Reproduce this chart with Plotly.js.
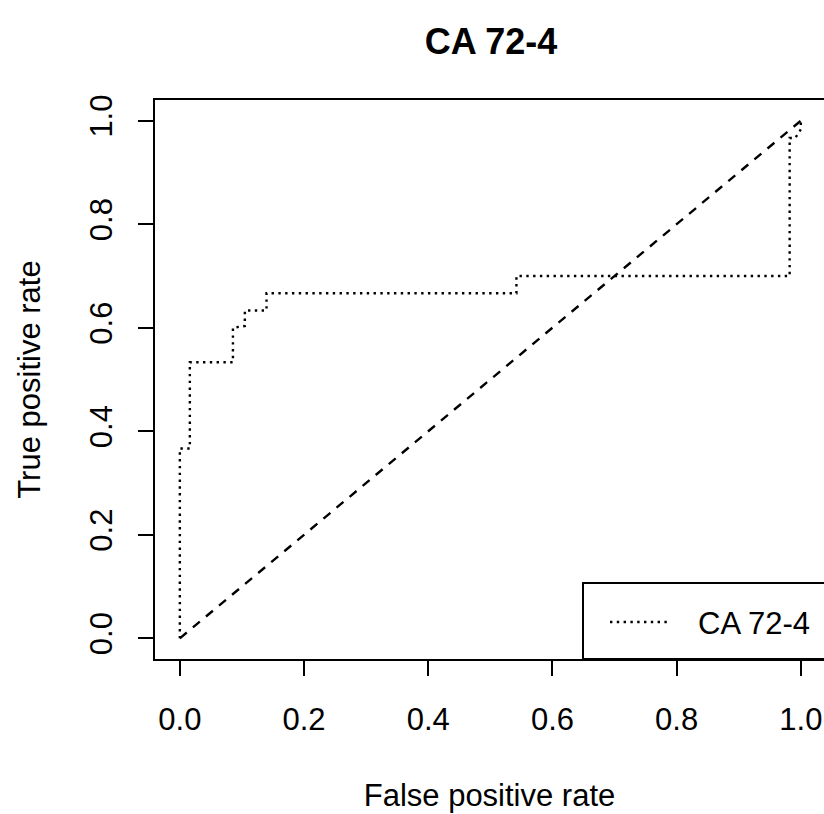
<!DOCTYPE html>
<html>
<head>
<meta charset="utf-8">
<script src="https://cdn.plot.ly/plotly-3.0.1.min.js"></script>
<style>html,body{margin:0;padding:0;background:#fff;}#chart{width:824px;height:814px;}</style>
</head>
<body>
<div id="chart"></div>
<script>
// ROC curve for CA 72-4
const fpr = [0, 0, 0.0161, 0.0161, 0.0855, 0.0855, 0.1047, 0.1047, 0.1396, 0.1396, 0.542, 0.542, 0.982, 0.982, 0.991, 1.0, 1.0];
const tpr = [0, 0.3667, 0.3667, 0.5333, 0.5333, 0.6, 0.6033, 0.6333, 0.6333, 0.6667, 0.6667, 0.7, 0.7, 0.9667, 0.9667, 0.9833, 1.0];
const chanceX = [0, 1];
const chanceY = [0, 1];
const tickVals = [0, 0.2, 0.4, 0.6, 0.8, 1.0];
const tickText = ["0.0", "0.2", "0.4", "0.6", "0.8", "1.0"];
const seriesName = "CA 72-4";
const chartTitle = "CA 72-4";
const xTitle = "False positive rate";
const yTitle = "True positive rate";

const FONT = "Liberation Sans, Arial, Helvetica, sans-serif";
const W = 824, H = 814;
const L = 155, T = 100, B = 155, R = 0;
const plotW = W - L - R, plotH = H - T - B;
// R-style 4% padding on the left; right edge falls off the picture
const xr0 = -0.04, xr1 = -0.04 + plotW / 621;
const yr0 = -0.04, yr1 = 1.04;
const px = p => (p - L) / plotW;
const py = p => (H - B - p) / plotH;

const traces = [
  {x: fpr, y: tpr, mode: "lines", name: seriesName,
   line: {color: "#000", width: 2.4, dash: "2.4px,4.4px"}, hoverinfo: "x+y"},
  {x: chanceX, y: chanceY, mode: "lines", name: "chance",
   line: {color: "#000", width: 2.4, dash: "9px,8px"}, hoverinfo: "skip"}
];

const axisBase = {
  showgrid: false, zeroline: false, showline: true, linecolor: "#000", linewidth: 2,
  ticks: "outside", ticklen: 15, tickwidth: 2, tickcolor: "#000",
  tickvals: tickVals, ticktext: tickText,
  tickfont: {family: FONT, size: 31, color: "#000"},
  title: {font: {family: FONT, size: 31, color: "#000"}}
};

const layout = {
  width: W, height: H,
  margin: {l: L, r: R, t: T, b: B, pad: 0},
  paper_bgcolor: "#fff", plot_bgcolor: "#fff",
  showlegend: false,
  title: {text: "<b>" + chartTitle + "</b>", font: {family: FONT, size: 36, color: "#000"},
          xref: "container", yref: "container", x: 491 / W, y: 1 - 41 / H,
          xanchor: "center", yanchor: "middle"},
  xaxis: Object.assign({}, axisBase, {
    range: [xr0, xr1], mirror: true, ticklabelstandoff: 17,
    title: {text: xTitle, standoff: 48, font: axisBase.title.font}
  }),
  yaxis: Object.assign({}, axisBase, {
    range: [yr0, yr1], tickangle: -90, ticklabelstandoff: 14,
    title: {text: yTitle, standoff: 34, font: axisBase.title.font}
  }),
  shapes: [
    {type: "rect", xref: "paper", yref: "paper", x0: px(583), x1: 1.05, y0: 0, y1: py(583),
     line: {color: "#000", width: 2}, fillcolor: "#fff", layer: "above"},
    {type: "line", xref: "paper", yref: "paper", x0: px(610), x1: px(667), y0: py(622), y1: py(622),
     line: {color: "#000", width: 2.4, dash: "2.4px,4.4px"}, layer: "above"}
  ],
  annotations: [
    {text: seriesName, xref: "paper", yref: "paper", x: px(696), y: py(623),
     xanchor: "left", yanchor: "middle", showarrow: false,
     font: {family: FONT, size: 31, color: "#000"}}
  ]
};

Plotly.newPlot("chart", traces, layout, {displayModeBar: false, staticPlot: true});
</script>
</body>
</html>
